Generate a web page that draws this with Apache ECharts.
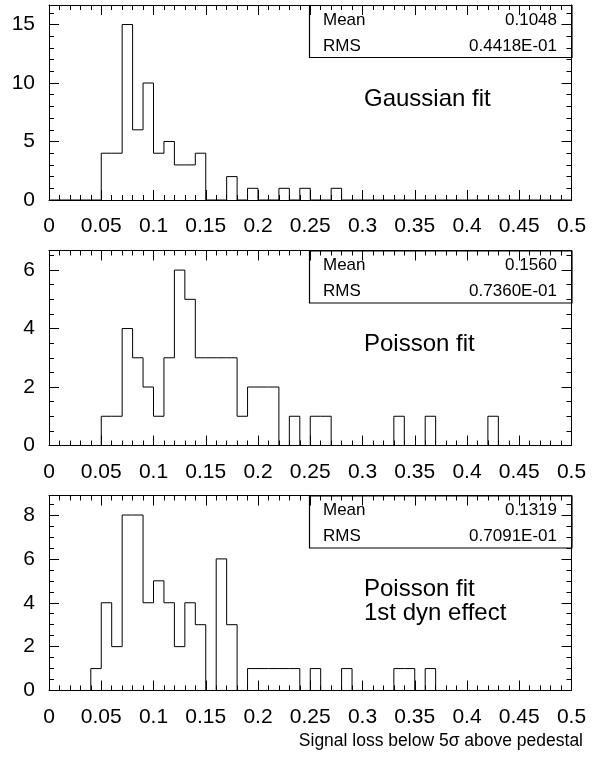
<!DOCTYPE html>
<html>
<head>
<meta charset="utf-8">
<script src="https://cdn.jsdelivr.net/npm/echarts@6/dist/echarts.min.js"></script>
<style>
  html, body { margin: 0; padding: 0; background: #fff; }
  #chart { width: 593px; height: 772px; }
</style>
</head>
<body>
<div id="chart"></div>
<script>
// bins of 0.01 from 0 to 0.5
var binWidth = 0.01;
var nBins = 50;

// counts per bin
var gaussCounts = [
  0, 0, 0, 0, 0, 4, 4, 15, 6, 10,
  4, 5, 3, 3, 4, 0, 0, 2, 0, 1,
  0, 0, 1, 0, 1, 0, 0, 1, 0, 0,
  0, 0, 0, 0, 0, 0, 0, 0, 0, 0,
  0, 0, 0, 0, 0, 0, 0, 0, 0, 0
];
var poissonCounts = [
  0, 0, 0, 0, 0, 1, 1, 4, 3, 2,
  1, 3, 6, 5, 3, 3, 3, 3, 1, 2,
  2, 2, 0, 1, 0, 1, 1, 0, 0, 0,
  0, 0, 0, 1, 0, 0, 1, 0, 0, 0,
  0, 0, 1, 0, 0, 0, 0, 0, 0, 0
];
var dynCounts = [
  0, 0, 0, 0, 1, 4, 2, 8, 8, 4,
  5, 4, 2, 4, 3, 0, 6, 3, 0, 1,
  1, 1, 1, 1, 0, 1, 0, 0, 1, 0,
  0, 0, 0, 1, 1, 0, 1, 0, 0, 0,
  0, 0, 0, 0, 0, 0, 0, 0, 0, 0
];

var panelNames = ["Gaussian fit", "Poisson fit", "Poisson fit\n1st dyn effect"];
var meanValues = ["0.1048", "0.1560", "0.1319"];
var rmsValues = ["0.4418E-01", "0.7360E-01", "0.7091E-01"];
var yMaxes = [16.67, 6.67, 8.89];
var yMajor = [5, 2, 2];
var yMinor = [1, 0.5, 0.5];
var xTitle = "Signal loss below 5σ above pedestal";

var counts = [gaussCounts, poissonCounts, dynCounts];
var FONT = "'Liberation Sans', Arial, Helvetica, sans-serif";

var gridTop = [5, 250.5, 495.5];
var gridH = 195;
var gridLeft = 49;
var gridRight = 21.5;
var plotRight = 593 - gridRight;
var boxLeft = 309;
var boxH = 52;

function stepData(c) {
  var d = [];
  for (var i = 0; i < nBins; i++) {
    d.push([+(i * binWidth).toFixed(2), c[i]]);
  }
  d.push([+(nBins * binWidth).toFixed(2), c[nBins - 1]]);
  return d;
}

var grids = [], xAxes = [], yAxes = [], series = [], graphics = [];

for (var g = 0; g < 3; g++) {
  grids.push({ left: gridLeft, right: gridRight, top: gridTop[g], height: gridH });

  var xBase = {
    gridIndex: g,
    type: "value",
    min: 0,
    max: 0.5,
    interval: 0.05,
    axisLine: { show: true, onZero: false, lineStyle: { color: "#000", width: 1 } },
    axisTick: { show: true, inside: true, length: 10, lineStyle: { color: "#000" } },
    minorTick: { show: true, splitNumber: 5, length: 5, lineStyle: { color: "#000" } },
    splitLine: { show: false },
    minorSplitLine: { show: false }
  };
  xAxes.push(Object.assign({}, xBase, {
    position: "bottom",
    axisLabel: {
      show: true, color: "#000", fontSize: 21, fontFamily: FONT, margin: 16,
      showMinLabel: true, showMaxLabel: true
    }
  }));
  xAxes.push(Object.assign({}, xBase, { position: "top", axisLabel: { show: false } }));

  function yAx(pos, iv, len, line, label) {
    return {
      gridIndex: g,
      type: "value",
      position: pos,
      min: 0,
      max: yMaxes[g],
      interval: iv,
      axisLine: { show: line, onZero: false, lineStyle: { color: "#000", width: 1 } },
      axisTick: { show: true, inside: true, length: len, lineStyle: { color: "#000" } },
      splitLine: { show: false },
      axisLabel: label ? {
        show: true, color: "#000", fontSize: 21, fontFamily: FONT, margin: 14,
        showMaxLabel: false
      } : { show: false }
    };
  }
  yAxes.push(yAx("left", yMajor[g], 10, true, true));
  yAxes.push(yAx("left", yMinor[g], 5, false, false));
  yAxes.push(yAx("right", yMajor[g], 10, true, false));
  yAxes.push(yAx("right", yMinor[g], 5, false, false));

  series.push({
    type: "line",
    xAxisIndex: 2 * g,
    yAxisIndex: 4 * g,
    step: "end",
    symbol: "none",
    silent: true,
    lineStyle: { color: "#000", width: 1 },
    data: stepData(counts[g])
  });

  var t = gridTop[g];
  graphics.push({
    type: "rect",
    shape: { x: boxLeft + 0.5, y: t + 0.5, width: plotRight - boxLeft, height: boxH },
    style: { fill: "none", stroke: "#000", lineWidth: 1.2 }
  });
  graphics.push({
    type: "text", x: 323, y: t + 15,
    style: { text: "Mean", fontSize: 17, fontFamily: FONT, fill: "#000", textAlign: "left", textVerticalAlign: "middle" }
  });
  graphics.push({
    type: "text", x: 557, y: t + 15,
    style: { text: meanValues[g], fontSize: 17, fontFamily: FONT, fill: "#000", textAlign: "right", textVerticalAlign: "middle" }
  });
  graphics.push({
    type: "text", x: 323, y: t + 41,
    style: { text: "RMS", fontSize: 17, fontFamily: FONT, fill: "#000", textAlign: "left", textVerticalAlign: "middle" }
  });
  graphics.push({
    type: "text", x: 557, y: t + 41,
    style: { text: rmsValues[g], fontSize: 17, fontFamily: FONT, fill: "#000", textAlign: "right", textVerticalAlign: "middle" }
  });
  graphics.push({
    type: "text", x: 364, y: t + 82,
    style: { text: panelNames[g], fontSize: 24, fontFamily: FONT, fill: "#000", textAlign: "left", textVerticalAlign: "top", lineHeight: 24 }
  });
}

graphics.push({
  type: "text", x: 583, y: 741,
  style: { text: xTitle, fontSize: 17.5, fontFamily: FONT, fill: "#000", textAlign: "right", textVerticalAlign: "middle" }
});

var chart = echarts.init(document.getElementById("chart"), null, { renderer: "canvas" });
chart.setOption({
  animation: false,
  backgroundColor: "#fff",
  grid: grids,
  xAxis: xAxes,
  yAxis: yAxes,
  series: series,
  graphic: graphics
});
</script>
</body>
</html>
